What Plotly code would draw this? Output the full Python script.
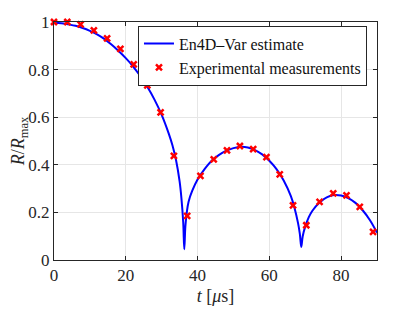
import plotly.graph_objects as go

# Experimental measurements
t_meas = [0, 3.7, 7.4, 11.1, 14.8, 18.5, 22.2, 26.0, 29.7, 33.4, 37.1, 40.8, 44.5,
          48.2, 51.8, 55.5, 59.2, 62.9, 66.6, 70.3, 74.0, 77.8, 81.5, 85.2, 88.9]
r_meas = [1.0, 1.0, 0.99, 0.965, 0.931, 0.887, 0.822, 0.734, 0.62, 0.437, 0.185, 0.353, 0.423,
          0.461, 0.479, 0.466, 0.432, 0.36, 0.23, 0.146, 0.244, 0.28, 0.272, 0.223, 0.118]

# En4D-Var estimate
t_est = [0, 2, 4, 6, 8, 10, 12, 14, 16, 18, 20, 22, 24, 26, 28, 30, 32, 33, 34, 35, 35.5, 36.0,
         36.3, 36.6, 37.0, 37.5, 38.5, 40, 42, 44, 46, 48, 50, 52, 54, 56, 58, 60, 62, 64, 66,
         67, 68, 68.5, 68.9, 69.3, 70, 71, 72, 74, 76, 78, 80, 82, 84, 86, 88, 90]
r_est = [0.995, 0.995, 0.99, 0.984, 0.975, 0.963, 0.948, 0.929, 0.905, 0.878, 0.848, 0.814,
         0.774, 0.728, 0.674, 0.61, 0.53, 0.482, 0.42, 0.33, 0.26, 0.16,
         0.045, 0.14, 0.2, 0.245, 0.29, 0.338, 0.383, 0.418, 0.442, 0.459, 0.47, 0.476, 0.473,
         0.462, 0.444, 0.417, 0.382, 0.334, 0.268, 0.22, 0.155, 0.11, 0.055, 0.1, 0.14, 0.18,
         0.207, 0.242, 0.263, 0.273, 0.271, 0.26, 0.24, 0.209, 0.168, 0.115]

x_ticks = [0, 20, 40, 60, 80]
y_ticks = [0, 0.2, 0.4, 0.6, 0.8, 1]
y_tick_text = ["0", "0.2", "0.4", "0.6", "0.8", "1"]

font_family = "Liberation Serif"

fig = go.Figure()
fig.add_trace(go.Scatter(
    x=t_est, y=r_est, mode="lines", name="En4D\u2013Var estimate",
    line=dict(color="#0000ff", width=2), line_shape="spline", cliponaxis=False))
fig.add_trace(go.Scatter(
    x=t_meas, y=r_meas, mode="markers", name="Experimental measurements",
    marker=dict(symbol="x-thin", size=6, color="#ff0000",
                line=dict(color="#ff0000", width=2.5)),
    cliponaxis=False))

axis_common = dict(
    showgrid=True, gridcolor="#e6e6e6", gridwidth=1,
    showline=True, linecolor="#262626", linewidth=1, mirror="ticks",
    ticks="inside", ticklen=4, tickcolor="#262626", zeroline=False,
    automargin=False,
    tickfont=dict(family=font_family, size=17, color="#262626"),
)

fig.update_xaxes(range=[0, 90], tickvals=x_ticks,
                 title=dict(text="<i>t</i> [<i>μ</i>s]", standoff=4,
                            font=dict(family=font_family, size=18, color="#262626")),
                 **axis_common)
fig.update_yaxes(range=[0, 1], tickvals=y_ticks, ticktext=y_tick_text,
                 title=dict(text="<i>R</i>/<i>R</i><sub>max</sub>", standoff=6,
                            font=dict(family=font_family, size=18, color="#262626")),
                 **axis_common)

fig.update_layout(
    width=407, height=304,
    margin=dict(l=46, r=38, t=14, b=52),
    paper_bgcolor="white", plot_bgcolor="white",
    showlegend=True,
    font=dict(family=font_family, color="#262626"),
    legend=dict(x=0.26, y=0.985, xanchor="left", yanchor="top",
                bgcolor="white", bordercolor="#262626", borderwidth=1,
                font=dict(family=font_family, size=16, color="#111111"),
                tracegroupgap=0, itemwidth=30),
)

fig.write_html("out.html")
